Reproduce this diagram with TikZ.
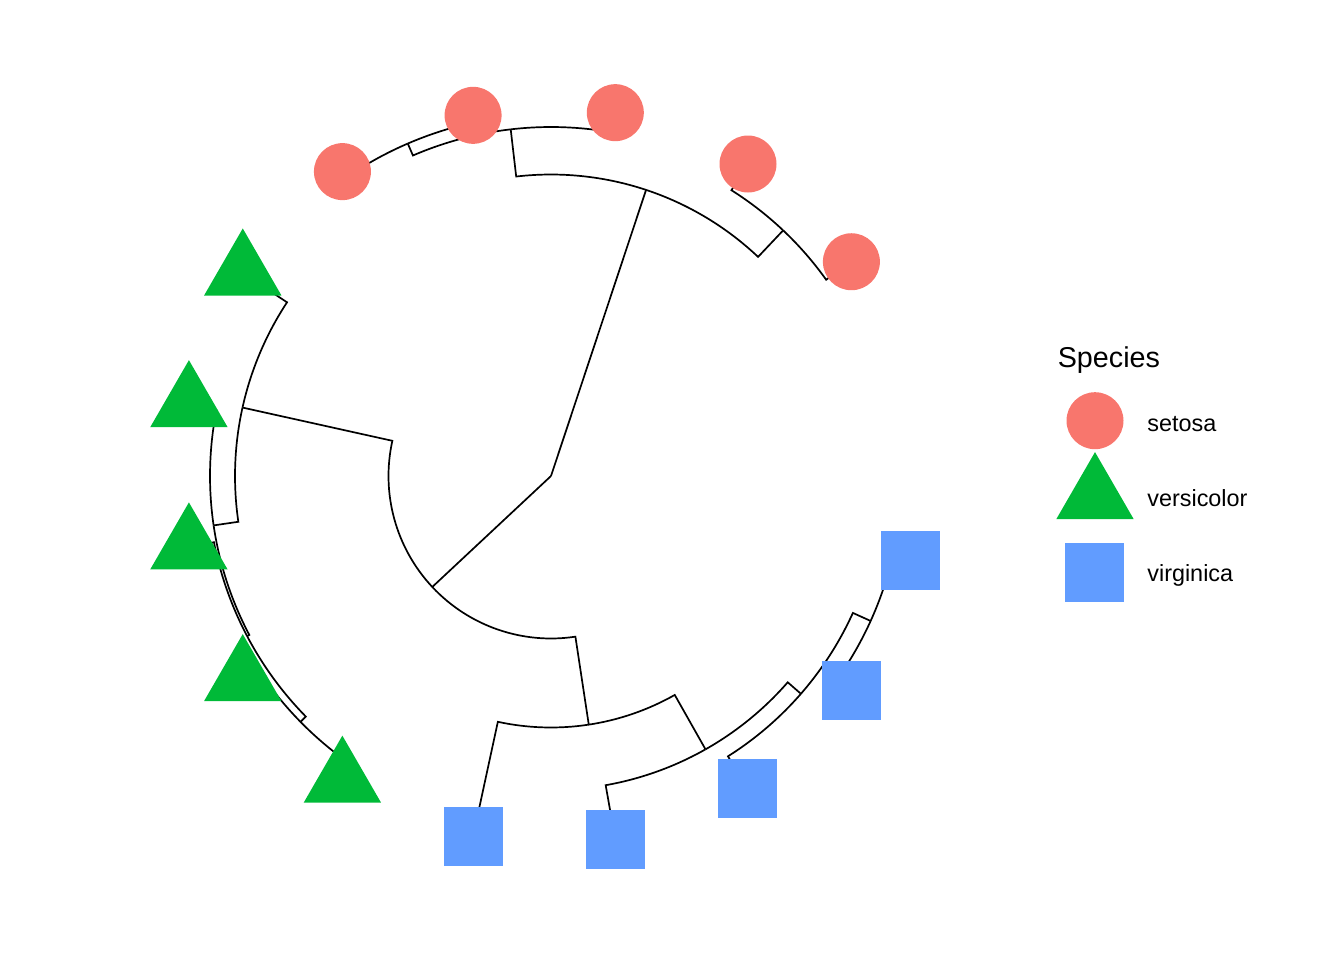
\documentclass[tikz,border=0pt]{standalone}
\usepackage{fontspec}
\setmainfont{Liberation Sans}
\usetikzlibrary{shapes.geometric}
\definecolor{setosacol}{HTML}{F8766D}
\definecolor{versicol}{HTML}{00BA38}
\definecolor{virgcol}{HTML}{619CFF}
\newcommand{\treebranch}[5]{\draw (#1) arc[start angle=#2, end angle=#4, radius=#3] -- (#5);}
\begin{document}
\begin{tikzpicture}[x=0.5pt,y=0.5pt,line width=0.85pt,
  setosakey/.style={circle, fill=setosacol, minimum size=28.5pt, inner sep=0pt},
  versikey/.style={regular polygon, regular polygon sides=3, fill=versicol, minimum size=44.7pt, inner sep=0pt},
  virgkey/.style={rectangle, fill=virgcol, minimum size=29.5pt, inner sep=0pt},
  lab/.style={anchor=base west, inner sep=0pt, font=\fontsize{11.7}{14}\selectfont},
  ttl/.style={anchor=base west, inner sep=0pt, font=\fontsize{14.35}{17}\selectfont}]
\useasboundingbox (-551,-484) rectangle (793,476);
% internal nodes
\coordinate (R) at (0,0);
\coordinate (A) at (71.62:301.5);
\coordinate (A1) at (96.63:349);
\coordinate (A1a) at (113.305:362);
\coordinate (A2) at (46.615:338);
\coordinate (B) at (223.065:162.5);
\coordinate (B1) at (167.49:316);
\coordinate (B1b) at (188.33:341);
\coordinate (B1c) at (207.78:343.5);
\coordinate (B1d) at (224.455:351);
\coordinate (B2) at (278.64:251.5);
\coordinate (B2a) at (299.48:314);
\coordinate (B2b) at (318.93:331.5);
\coordinate (B2c) at (335.605:351);
% tips
\coordinate (t0) at (35.5:369);
\coordinate (t1) at (57.73:369);
\coordinate (t2) at (79.96:369);
\coordinate (t3) at (102.19:369);
\coordinate (t4) at (124.42:369);
\coordinate (t5) at (146.65:369);
\coordinate (t6) at (168.88:369);
\coordinate (t7) at (191.11:369);
\coordinate (t8) at (213.34:369);
\coordinate (t9) at (235.57:369);
\coordinate (t10) at (257.8:369);
\coordinate (t11) at (280.03:369);
\coordinate (t12) at (302.26:369);
\coordinate (t13) at (324.49:369);
\coordinate (t14) at (346.72:369);
% branches
\draw (R) -- (A);
\draw (R) -- (B);
\treebranch{A}{71.62}{301.5}{96.63}{A1}
\treebranch{A}{71.62}{301.5}{46.615}{A2}
\treebranch{A1}{96.63}{349}{79.96}{t2}
\treebranch{A1}{96.63}{349}{113.305}{A1a}
\treebranch{A1a}{113.305}{362}{102.19}{t3}
\treebranch{A1a}{113.305}{362}{124.42}{t4}
\treebranch{A2}{46.615}{338}{35.5}{t0}
\treebranch{A2}{46.615}{338}{57.73}{t1}
\treebranch{B}{223.065}{162.5}{167.49}{B1}
\treebranch{B}{223.065}{162.5}{278.64}{B2}
\treebranch{B1}{167.49}{316}{146.65}{t5}
\treebranch{B1}{167.49}{316}{188.33}{B1b}
\treebranch{B1b}{188.33}{341}{168.88}{t6}
\treebranch{B1b}{188.33}{341}{207.78}{B1c}
\treebranch{B1c}{207.78}{343.5}{191.11}{t7}
\treebranch{B1c}{207.78}{343.5}{224.455}{B1d}
\treebranch{B1d}{224.455}{351}{213.34}{t8}
\treebranch{B1d}{224.455}{351}{235.57}{t9}
\treebranch{B2}{278.64}{251.5}{257.8}{t10}
\treebranch{B2}{278.64}{251.5}{299.48}{B2a}
\treebranch{B2a}{299.48}{314}{280.03}{t11}
\treebranch{B2a}{299.48}{314}{318.93}{B2b}
\treebranch{B2b}{318.93}{331.5}{302.26}{t12}
\treebranch{B2b}{318.93}{331.5}{335.605}{B2c}
\treebranch{B2c}{335.605}{351}{324.49}{t13}
\treebranch{B2c}{335.605}{351}{346.72}{t14}
% tip symbols
\foreach \i in {0,...,4} {\node[setosakey] (s\i) at (t\i) {};}
\foreach \i in {5,...,9} {\node[versikey] (s\i) at (t\i) {};}
\foreach \i in {10,...,14} {\node[virgkey] (s\i) at (t\i) {};}
% legend
\node[ttl] (title) at (506,109) {Species};
\node[setosakey] (key1) at (544,55.3) {};
\node[versikey] (key2) at (544,-20.8) {};
\node[virgkey] (key3) at (543.5,-96) {};
\node[lab] (lab1) at (595.5,45) {setosa};
\node[lab] (lab2) at (595.5,-30.7) {versicolor};
\node[lab] (lab3) at (595.5,-105.7) {virginica};
\end{tikzpicture}
\end{document}
